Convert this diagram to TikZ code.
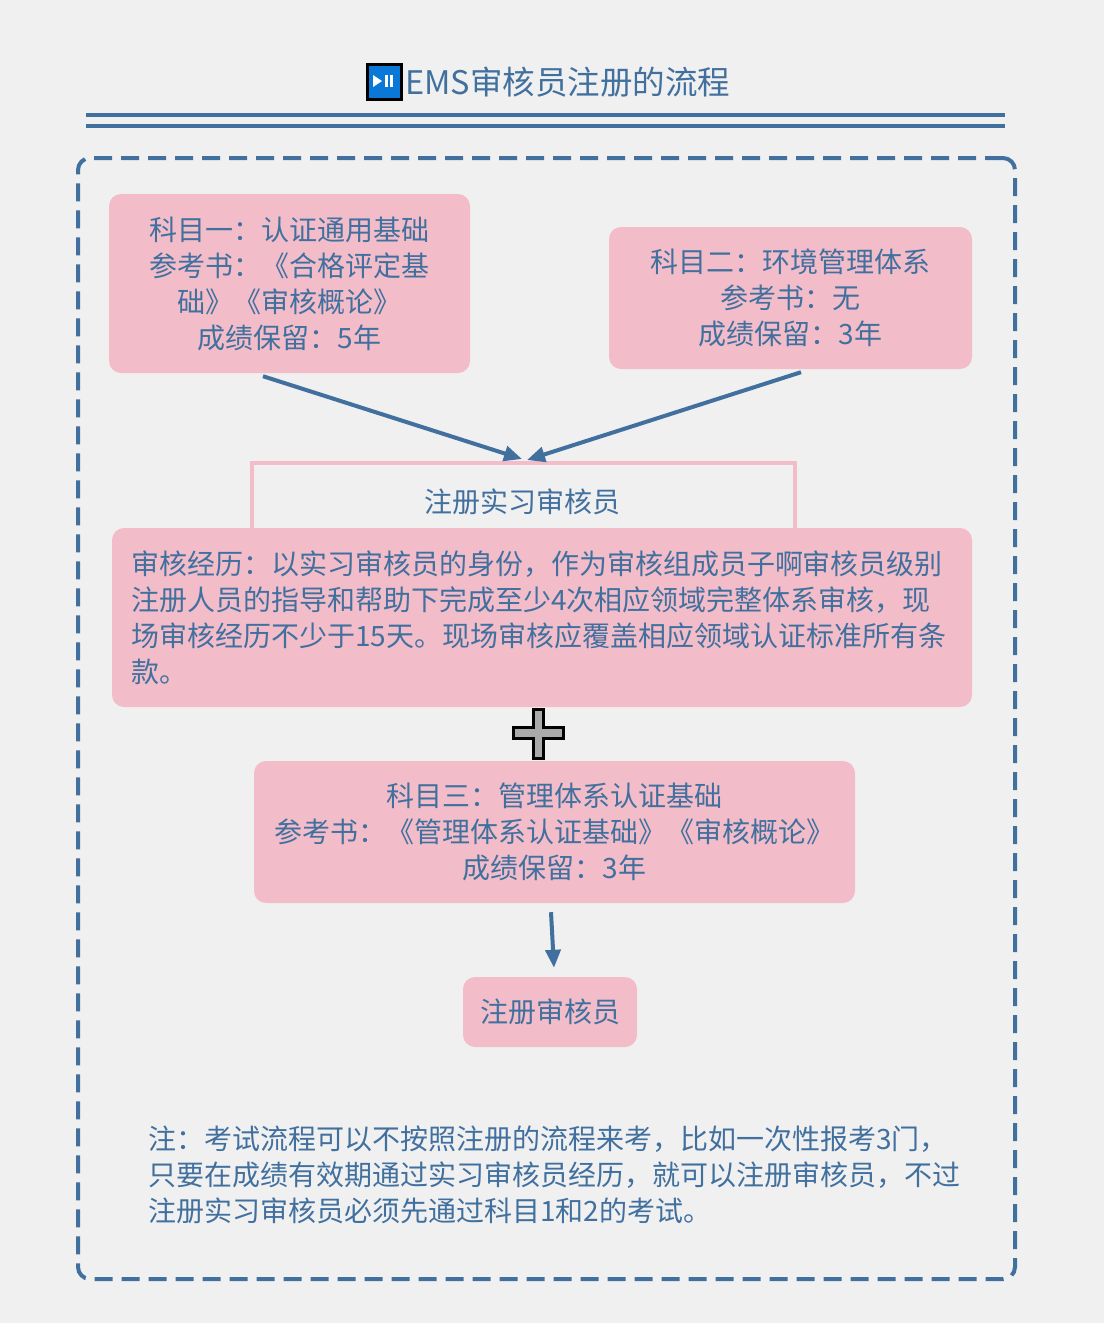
\documentclass[tikz,border=0pt]{standalone}
\usepackage{fontspec}
\newfontfamily\cjk{Noto Sans CJK SC}
\usetikzlibrary{arrows.meta,calc}
\definecolor{bgc}{HTML}{F0F0F0}
\definecolor{pinkc}{HTML}{F2BDC9}
\definecolor{bluec}{HTML}{41709F}
\definecolor{iconc}{HTML}{0A78D7}
\definecolor{plusc}{HTML}{AAAAAA}
\tikzset{
  pinkbox/.style={fill=pinkc, draw=none, rounded corners=12pt, inner sep=0pt, font=\cjk\fontsize{28}{36}\selectfont, text=bluec, align=center},
  arr/.style={draw=bluec, line width=4pt, -{Triangle[length=18pt,width=15pt]}},
  txt/.style={font=\cjk\fontsize{28}{36}\selectfont, text=bluec, inner sep=0pt}
}
\begin{document}
\begin{tikzpicture}[x=1pt,y=-1pt]
\fill[bgc] (0,0) rectangle (1104,1323);
\useasboundingbox (0,0) rectangle (1104,1323);
% title
\node[draw=black, line width=3pt, fill=iconc, minimum width=34pt, minimum height=35pt, inner sep=0pt] (icon) at (384,81.5) {};
\fill[white] (373,75) -- (382,81) -- (373,87) -- cycle;
\fill[white] (385,75) rectangle (387.5,87);
\fill[white] (390,75) rectangle (392.5,87);
\node[anchor=west, font=\cjk\fontsize{32.5}{36}\selectfont, text=bluec, inner sep=0pt] (title) at (405,82) {EMS审核员注册的流程};
\draw[bluec, line width=4pt] (86,115) -- (1005,115);
\draw[bluec, line width=4pt] (86,125.5) -- (1005,125.5);
% frame
\node[draw=bluec, line width=4pt, dash pattern=on 18pt off 9pt, rounded corners=12pt, minimum width=937pt, minimum height=1121pt, inner sep=0pt] (frame) at (546.5,718.5) {};
% boxes
\node[pinkbox, minimum width=361pt, minimum height=179pt] (b1) at (289.5,283.5) {科目一：认证通用基础\\参考书：《合格评定基\\础》《审核概论》\\成绩保留：5年};
\node[pinkbox, minimum width=363pt, minimum height=142pt] (b2) at (790.5,298) {科目二：环境管理体系\\参考书：无\\成绩保留：3年};
\node[draw=pinkc, line width=4pt, minimum width=543pt, minimum height=72pt, inner sep=0pt] (reg) at (523.5,499) {};
\node[txt] (regt) at (522,502) {注册实习审核员};
\node[pinkbox, minimum width=860pt, minimum height=179pt, text width=822pt, align=left] (big) at (542,617.5) {审核经历：以实习审核员的身份，作为审核组成员子啊审核员级别\\注册人员的指导和帮助下完成至少4次相应领域完整体系审核，现\\场审核经历不少于15天。现场审核应覆盖相应领域认证标准所有条\\款。};
% plus
\draw[black, line width=3pt, fill=plusc] (533.5,709.5) -- (543.5,709.5) -- (543.5,727.5) -- (563.5,727.5) -- (563.5,738.5) -- (543.5,738.5) -- (543.5,758.5) -- (533.5,758.5) -- (533.5,738.5) -- (513.5,738.5) -- (513.5,727.5) -- (533.5,727.5) -- cycle;
\node[pinkbox, minimum width=601pt, minimum height=142pt] (b3) at (554.5,832) {科目三：管理体系认证基础\\参考书：《管理体系认证基础》《审核概论》\\成绩保留：3年};
\node[pinkbox, minimum width=174pt, minimum height=70pt] (b4) at (550,1012) {注册审核员};
\node[txt, anchor=north west, align=left] (note) at (148,1126) {注：考试流程可以不按照注册的流程来考，比如一次性报考3门，\\只要在成绩有效期通过实习审核员经历，就可以注册审核员，不过\\注册实习审核员必须先通过科目1和2的考试。};
% arrows
\draw[arr] ([xshift=-26.5pt,yshift=-3pt]b1.south) -- ([xshift=-1.5pt,yshift=2pt]reg.north);
\draw[arr] ([xshift=10.5pt,yshift=-3pt]b2.south) -- ([xshift=3.5pt,yshift=1pt]reg.north);
\draw[arr] ([xshift=-3.5pt,yshift=-9pt]b3.south) -- ([xshift=4pt,yshift=9pt]b4.north);
\end{tikzpicture}
\end{document}
